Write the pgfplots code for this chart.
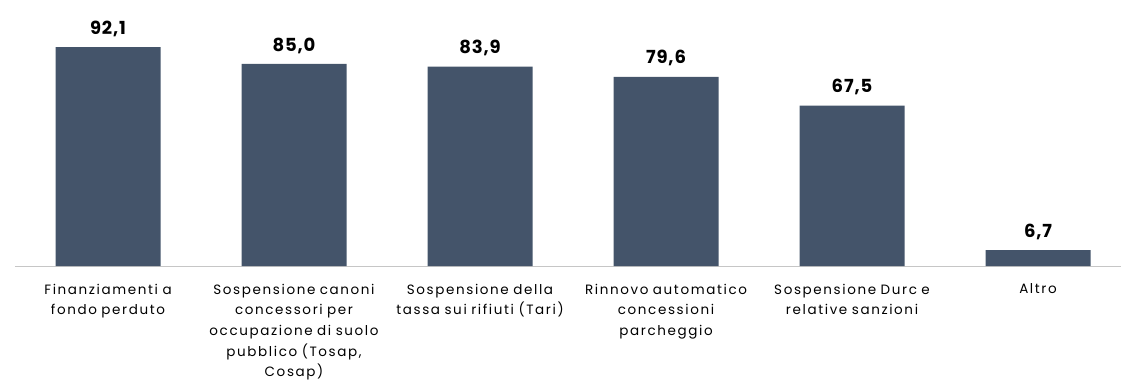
\documentclass[border=0pt]{standalone}
\usepackage{pgfplots}
\pgfplotsset{compat=1.18}
\usepackage{fontspec}
\setmainfont{Poppins}
\newfontfamily\lblfont[LetterSpace=12]{Poppins}
\newfontfamily\valfont[LetterSpace=5]{Poppins}
\definecolor{barc}{RGB}{68,84,106}
\begin{document}
\begin{tikzpicture}
\begin{axis}[
  at={(0,0)}, anchor=south west,
  scale only axis, width=1106pt, height=266pt,
  xmin=-0.5, xmax=5.446, ymin=0, ymax=111.9,
  axis x line*=bottom, axis y line=none,
  x axis line style={gray!45, line width=0.8pt},
  ytick=\empty,
  xtick=data,
  xticklabels={{Finanziamenti a\\fondo perduto},{Sospensione canoni\\concessori per\\occupazione di suolo\\pubblico (Tosap,\\Cosap)},{Sospensione della\\tassa sui rifiuti (Tari)},{Rinnovo automatico\\concessioni\\parcheggio},{Sospensione Durc e\\relative sanzioni},{Altro}},
  major x tick style={draw=none},
  xticklabel style={font=\lblfont\fontsize{13.5}{20.7}\selectfont, align=center, text width=200pt, yshift=-10pt, text=black},
  extra x ticks={-0.5,0.5,1.5,2.5,3.5,4.5},
  extra x tick labels={},
  extra x tick style={major tick length=5pt, tick align=outside, tick style={draw=gray!55, line width=0.8pt}},
  ybar, bar width=105pt,
  clip=false,
  nodes near coords,
  nodes near coords style={font=\valfont\fontsize{18}{20}\selectfont\bfseries, text=black, yshift=7pt,
    /pgf/number format/.cd, fixed, fixed zerofill, precision=1, use comma, assume math mode=true},
]
\addplot[fill=barc, draw=none] coordinates {(0,92.1) (1,85.0) (2,83.9) (3,79.6) (4,67.5) (5,6.7)};
\end{axis}
\pgfresetboundingbox
\path (-15pt,-117pt) rectangle (1106pt,266pt);
\end{tikzpicture}
\end{document}
